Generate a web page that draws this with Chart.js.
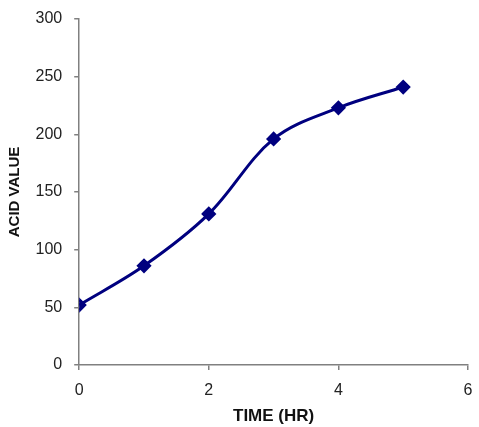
<!DOCTYPE html>
<html>
<head>
<meta charset="utf-8">
<script src="https://cdn.jsdelivr.net/npm/chart.js@4/dist/chart.umd.min.js"></script>
<style>
  html, body { margin: 0; padding: 0; background: #fff; }
  #wrap { width: 479px; height: 427px; }
</style>
</head>
<body>
<div id="wrap"><canvas id="myChart"></canvas></div>
<script>
const ctx = document.getElementById('myChart');

const timeHr = [0, 1, 2, 3, 4, 5];
const acidValue = [52, 86, 131, 196, 223, 241];

const xTicks = [0, 2, 4, 6];
const yTicks = [0, 50, 100, 150, 200, 250, 300];

let pts = [];
for (let i = 0; i < timeHr.length; i++) {
    pts.push({ x: timeHr[i], y: acidValue[i] });
}

const navy = '#00007f';
const axisGrey = '#808080';

new Chart(ctx, {
    type: 'scatter',
    data: {
        datasets: [{
            label: 'Acid value',
            data: pts,
            showLine: true,
            borderColor: navy,
            backgroundColor: navy,
            borderWidth: 3,
            tension: 0.35,
            pointStyle: 'rectRot',
            pointRadius: 5.5,
            pointHoverRadius: 5.5,
        }]
    },
    options: {
        responsive: true,
        maintainAspectRatio: false,
        animation: false,
        layout: { padding: { left: 5.5, top: 19, right: 11, bottom: 0 } },
        plugins: {
            legend: { display: false },
            tooltip: { enabled: false }
        },
        scales: {
            x: {
                type: 'linear',
                min: 0,
                max: 6,
                afterBuildTicks: (axis) => { axis.ticks = xTicks.map(v => ({ value: v })); },
                // fixed box so the plot area lines up with the reference
                afterFit: (s) => { s.height = 62; s.paddingLeft = 0; s.paddingRight = 0; },
                grid: { drawOnChartArea: false, drawTicks: true, tickLength: 5, color: axisGrey, lineWidth: 1.5 },
                border: { color: axisGrey, width: 1.5 },
                ticks: { color: '#222', font: { family: 'Liberation Sans', size: 16 }, padding: 11 },
                title: {
                    display: true,
                    text: 'TIME (HR)',
                    color: '#111',
                    font: { family: 'Liberation Sans', size: 17, weight: 'bold' },
                    padding: { top: 0, bottom: 0 }
                }
            },
            y: {
                min: 0,
                max: 300,
                afterBuildTicks: (axis) => { axis.ticks = yTicks.map(v => ({ value: v })); },
                afterFit: (s) => { s.paddingTop = 0; s.paddingBottom = 0; },
                grid: { drawOnChartArea: false, drawTicks: true, tickLength: 5, color: axisGrey, lineWidth: 1.5 },
                border: { color: axisGrey, width: 1.5 },
                ticks: { color: '#222', font: { family: 'Liberation Sans', size: 16 }, padding: 12 },
                title: {
                    display: true,
                    text: 'ACID VALUE',
                    color: '#111',
                    font: { family: 'Liberation Sans', size: 15, weight: 'bold' },
                    padding: { top: 0, bottom: 0 }
                }
            }
        }
    }
});
</script>
</body>
</html>
